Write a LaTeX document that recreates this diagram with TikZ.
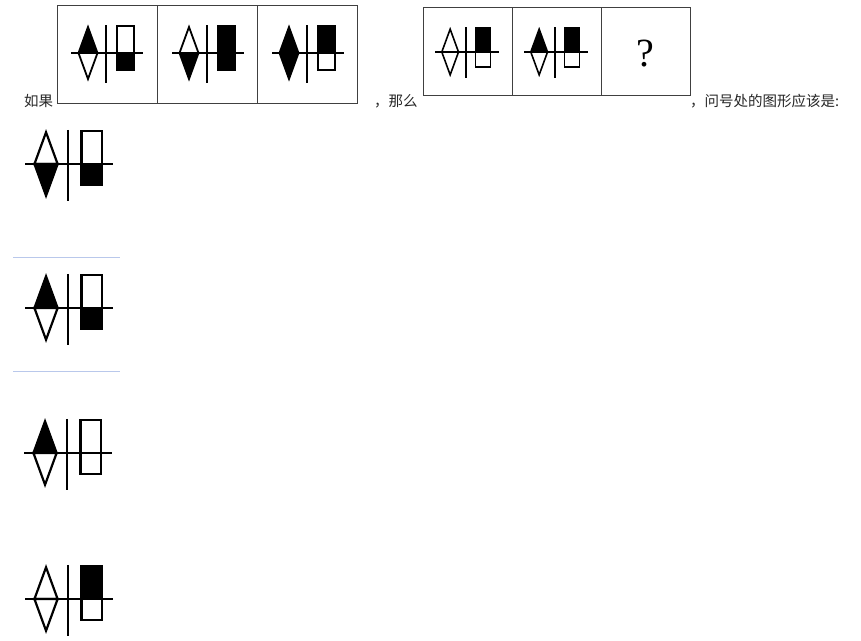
\documentclass[tikz,border=0pt]{standalone}
\usepackage{fontspec}
\newfontfamily\cjk{Noto Sans CJK SC}
\newfontfamily\qmark{Liberation Serif}
\usetikzlibrary{positioning}

% one puzzle figure: x, y, scale, diamond top, diamond bottom, box top, box bottom
\newcommand{\figlet}[7]{%
  \begin{scope}[shift={(#1,#2)},scale=#3,line width={#3*1.8pt}]
    \filldraw[fill=#4] (-27.5,0) -- (-18,-26) -- (-8.5,0) -- cycle;
    \filldraw[fill=#5] (-27.5,0) -- (-18,26) -- (-8.5,0) -- cycle;
    \filldraw[fill=#6] (11,-27) rectangle (28,0);
    \filldraw[fill=#7] (11,0) rectangle (28,17);
    \draw (-35,0) -- (37,0);
    \draw (0,-28) -- (0,30);
  \end{scope}}

\begin{document}
\begin{tikzpicture}
	[x=1pt,y=-1pt,
	 frame/.style={draw=black!75,line width=1pt,rectangle,inner sep=0pt},
	 bigframe/.style={frame,minimum width=100pt,minimum height=98pt},
	 smallframe/.style={frame,minimum width=89pt,minimum height=88pt},
	 words/.style={black!85,inner sep=0pt,anchor=west,font=\cjk\fontsize{14.5}{16}\selectfont},
	 split/.style={draw={rgb,255:red,185;green,200;blue,235},line width=0.8pt}]

\useasboundingbox (0,0) rectangle (861,640);

% first row of the question
\node [words] (ruguo) at (24,101) {如果};
\node [bigframe] (pa) at (107.5,54) {};
\node [bigframe] (pb) at (207.5,54) {};
\node [bigframe] (pc) at (307.5,54) {};
\figlet{106}{53}{1}{black}{white}{white}{black}
\figlet{207}{53}{1}{white}{black}{black}{black}
\figlet{307}{53}{1}{black}{black}{black}{white}

\node [words] (name) at (374,101) {，那么};
\node [smallframe] (qa) at (467.5,51) {};
\node [smallframe] (qb) at (556.5,51) {};
\node [smallframe] (qc) at (645.5,51) {};
\figlet{466}{52}{0.88}{white}{white}{black}{white}
\figlet{555}{52}{0.88}{black}{white}{black}{white}
\node [black,font=\qmark\fontsize{40}{40}\selectfont] (wen) at (645,54) {?};

\node [words] (ask) at (690,101) {，问号处的图形应该是:};

% the four answers
\figlet{68}{164}{1.22}{white}{black}{white}{black}
\draw [split] (13,257) -- (120,257);
\figlet{68}{308}{1.22}{black}{white}{white}{black}
\draw [split] (13,371) -- (120,371);
\figlet{67}{453}{1.22}{black}{white}{white}{white}
\figlet{68}{599}{1.22}{white}{white}{black}{white}

\end{tikzpicture}
\end{document}
